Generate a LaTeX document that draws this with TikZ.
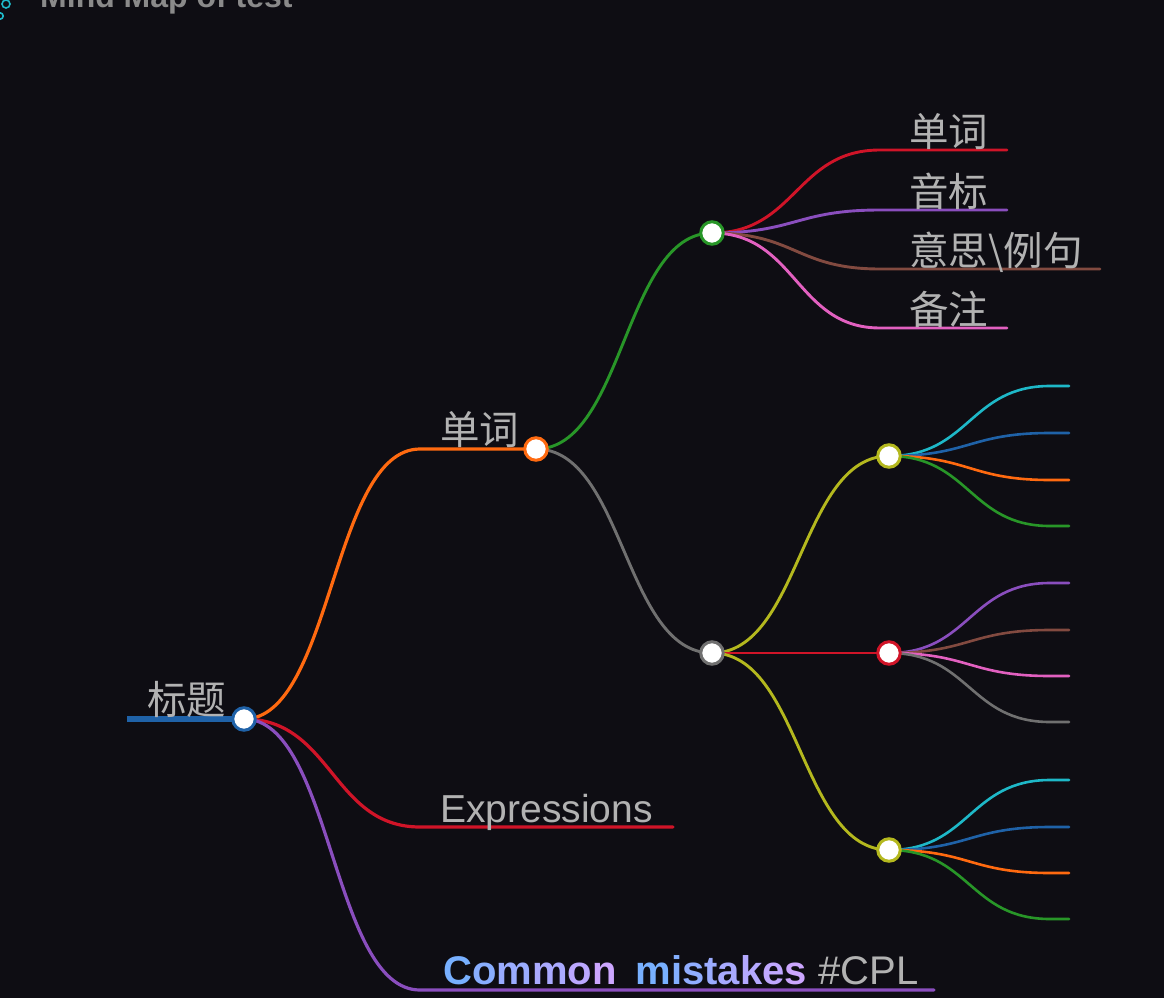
\documentclass[tikz,border=0pt]{standalone}
\usepackage{fontspec}
\setmainfont{Liberation Sans}
\newfontfamily\cjk{Noto Sans CJK SC}
\usetikzlibrary{calc}
\definecolor{bg}{RGB}{14,13,19}
\definecolor{txt}{RGB}{178,178,178}
\definecolor{ttl}{RGB}{138,138,138}
\definecolor{cblue}{RGB}{31,98,168}
\definecolor{corange}{RGB}{255,106,16}
\definecolor{cgreen}{RGB}{40,150,40}
\definecolor{cred}{RGB}{208,20,40}
\definecolor{cpurple}{RGB}{138,78,190}
\definecolor{cbrown}{RGB}{130,74,64}
\definecolor{cpink}{RGB}{226,96,192}
\definecolor{cgray}{RGB}{112,112,112}
\definecolor{colive}{RGB}{180,184,30}
\definecolor{ccyan}{RGB}{30,184,200}
\definecolor{gA}{RGB}{120,176,255}
\definecolor{gB}{RGB}{204,166,255}
\tikzset{
  mmlink/.style={to path={let \p1=(\tikztostart), \p2=(\tikztotarget) in
     .. controls ({(\x1+\x2)/2},\y1) and ({(\x1+\x2)/2},\y2) .. (\tikztotarget)}},
  lk/.style={line width=3.2pt, line cap=round},
  lk2/.style={line width=2.9pt, line cap=round},
  lk3/.style={line width=2.6pt, line cap=round},
  dot/.style={circle, fill=white, draw=#1, line width=3pt, minimum size=22.5pt, inner sep=0pt},
  lbl/.style={text=txt, inner sep=0pt, anchor=base west, font=\cjk\fontsize{39.5}{39.5}\selectfont},
  lat/.style={text=txt, inner sep=0pt, anchor=base west, font=\fontsize{39}{39}\selectfont},
}
\newcommand{\gc}[2]{\textcolor{gB!#1!gA}{#2}}
\begin{document}
\begin{tikzpicture}[x=1pt,y=-1pt]
\useasboundingbox (0,0) rectangle (1164,998);
\clip (0,0) rectangle (1164,998);
\fill[bg] (-2,-2) rectangle (1166,1000);

% title
\draw[ccyan, line width=1.6pt] (6,4) circle (4);
\draw[ccyan, line width=1.6pt] (0,16) circle (3.2);
\node[inner sep=0pt, anchor=base west, text=ttl, font=\bfseries\fontsize{32}{32}\selectfont] (title) at (40,8) {Mind Map of test};

% coordinates
\coordinate (R0) at (127,719);
\coordinate (R) at (244,719);
\coordinate (a1s) at (420,449);
\coordinate (A1) at (536,449);
\coordinate (e1s) at (420,827);
\coordinate (e1e) at (673,827);
\coordinate (c1s) at (420,990);
\coordinate (c1e) at (934,990);
\coordinate (B) at (712,233);
\coordinate (G) at (712,653);
\coordinate (t1s) at (880,150); \coordinate (t1e) at (1007,150);
\coordinate (t2s) at (880,210); \coordinate (t2e) at (1007,210);
\coordinate (t3s) at (880,269); \coordinate (t3e) at (1100,269);
\coordinate (t4s) at (880,328); \coordinate (t4e) at (1007,328);
\coordinate (O1) at (889,456);
\coordinate (M) at (889,653);
\coordinate (O2) at (889,850);
\foreach \n/\y in {p1/386,p2/433,p3/480,p4/526,q1/583,q2/630,q3/676,q4/722,r1/780,r2/827,r3/873,r4/919}{
  \coordinate (\n s) at (1050,\y);
  \coordinate (\n e) at (1069,\y);
}

% root line
\draw[cblue, line width=5.5pt] (R0) -- (R);

% depth 1
\draw[lk, corange] (R) to[mmlink] (a1s) -- (A1);
\draw[lk, cred] (R) to[mmlink] (e1s) -- (e1e);
\draw[lk, cpurple] (R) to[mmlink] (c1s) -- (c1e);

% depth 2
\draw[lk2, cgreen] (A1) to[mmlink] (B);
\draw[lk2, cgray] (A1) to[mmlink] (G);

% depth 3 from B
\draw[lk2, cred] (B) to[mmlink] (t1s) -- (t1e);
\draw[lk2, cpurple] (B) to[mmlink] (t2s) -- (t2e);
\draw[lk2, cbrown] (B) to[mmlink] (t3s) -- (t3e);
\draw[lk2, cpink] (B) to[mmlink] (t4s) -- (t4e);

% depth 3 from G
\draw[lk2, colive] (G) to[mmlink] (O1);
\draw[lk2, cred] (G) -- (M);
\draw[lk2, colive] (G) to[mmlink] (O2);

% leaves
\draw[lk3, ccyan] (O1) to[mmlink] (p1s) -- (p1e);
\draw[lk3, cblue] (O1) to[mmlink] (p2s) -- (p2e);
\draw[lk3, corange] (O1) to[mmlink] (p3s) -- (p3e);
\draw[lk3, cgreen] (O1) to[mmlink] (p4s) -- (p4e);
\draw[lk3, cpurple] (M) to[mmlink] (q1s) -- (q1e);
\draw[lk3, cbrown] (M) to[mmlink] (q2s) -- (q2e);
\draw[lk3, cpink] (M) to[mmlink] (q3s) -- (q3e);
\draw[lk3, cgray] (M) to[mmlink] (q4s) -- (q4e);
\draw[lk3, ccyan] (O2) to[mmlink] (r1s) -- (r1e);
\draw[lk3, cblue] (O2) to[mmlink] (r2s) -- (r2e);
\draw[lk3, corange] (O2) to[mmlink] (r3s) -- (r3e);
\draw[lk3, cgreen] (O2) to[mmlink] (r4s) -- (r4e);

% circles
\node[dot=cblue] (Rc) at (R) {};
\node[dot=corange] (A1c) at (A1) {};
\node[dot=cgreen] (Bc) at (B) {};
\node[dot=cgray] (Gc) at (G) {};
\node[dot=colive] (O1c) at (O1) {};
\node[dot=cred] (Mc) at (M) {};
\node[dot=colive] (O2c) at (O2) {};

% labels
\node[lbl] (l0) at (147,714) {标题};
\node[lbl] (l1) at (440,444) {单词};
\node[lat] (l2) at (440,822) {Expressions};
\node[inner sep=0pt, anchor=base west, font=\fontsize{40}{40}\selectfont] (l3) at (443,984)
  {\bfseries\gc{0}{C}\gc{20}{o}\gc{40}{m}\gc{60}{m}\gc{80}{o}\gc{100}{n}\hspace{19pt}%
   \gc{0}{m}\gc{14}{i}\gc{28}{s}\gc{42}{t}\gc{57}{a}\gc{71}{k}\gc{85}{e}\gc{100}{s}\mdseries\hspace{12pt}\textcolor{txt}{\#CPL}};
\node[lbl] (m1) at (909,146) {单词};
\node[lbl] (m2) at (909,206) {音标};
\node[lbl] (m3) at (909,265) {意思\textbackslash 例句};
\node[lbl] (m4) at (909,324) {备注};
\end{tikzpicture}
\end{document}
